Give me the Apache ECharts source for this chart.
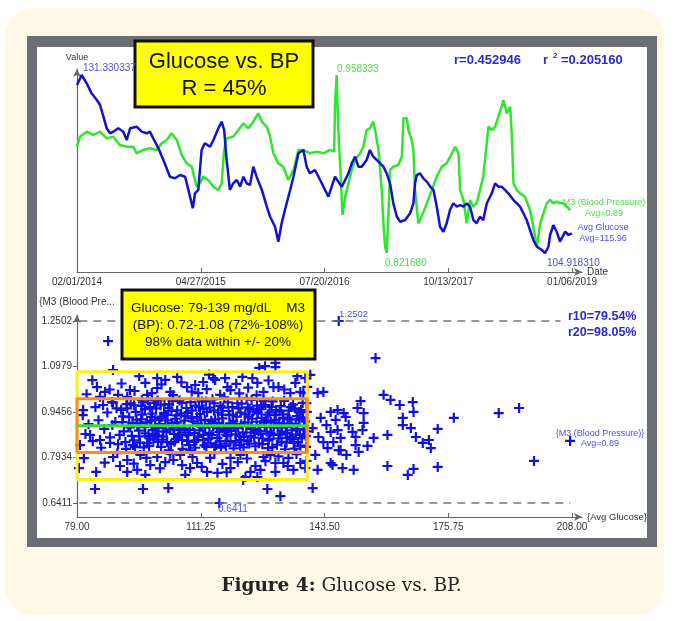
<!DOCTYPE html>
<html><head><meta charset="utf-8">
<script src="https://cdn.jsdelivr.net/npm/echarts@6/dist/echarts.min.js"></script>
<style>
html,body{margin:0;padding:0;background:#fff;width:673px;height:621px;overflow:hidden;}
#card{position:absolute;left:5px;top:8px;width:659px;height:607px;background:#FEF9E7;border-radius:28px;}
#frame{position:absolute;left:27px;top:36px;width:630px;height:511px;background:#6B6E75;}
#inner{position:absolute;left:37px;top:47px;width:610px;height:491px;background:#fff;}
#chart{position:absolute;left:0;top:0;width:673px;height:621px;}
#caption{position:absolute;left:0;width:683px;top:574px;line-height:22px;text-align:center;font-family:"DejaVu Serif",serif;font-size:18.5px;color:#222;}
</style></head>
<body>
<div id="card"></div><div id="frame"></div><div id="inner"></div>
<div id="chart"></div>
<div id="caption"><b>Figure 4:</b> Glucose vs. BP.</div>
<script>
// ---------- data ----------
const dateTicks = ['02/01/2014','04/27/2015','07/20/2016','10/13/2017','01/06/2019'];
const dayTicks = [0,450,900,1350,1800]; // days since 02/01/2014
const glucoseTicks = [79,111.25,143.5,175.75,208];
const bpTicks = [0.6411,0.7934,0.9456,1.0979,1.2502];

const blueDays = [0,17,35,53,72,84,96,108,120,132,150,168,181,193,217,235,253,265,277,296,314,338,356,375,393,405,421,429,441,453,465,484,496,514,526,535,544,556,568,581,593,605,617,629,641,653,672,690,702,720,732,744,756,775,787,805,823,835,847,865,884,902,914,926,938,950,963,975,987,999,1011,1023,1035,1053,1065,1077,1090,1102,1114,1126,1138,1150,1163,1175,1193,1211,1223,1229,1235,1247,1259,1272,1284,1296,1308,1320,1332,1344,1356,1368,1381,1393,1405,1417,1429,1441,1453,1465,1477,1490,1508,1520,1532,1544,1556,1568,1587,1599,1611,1623,1635,1647,1659,1672,1690,1702,1714,1720,1732,1744,1756,1762,1775,1787,1799];
const blueGlucose = [129.85,131.33,130.10,128.61,127.62,126.88,125.14,123.42,122.68,122.92,123.42,122.92,121.69,123.42,123.66,122.92,122.68,122.92,121.94,120.45,118.72,116.24,116.00,116.49,116.24,114.27,111.55,113.78,114.27,120.20,121.20,120.69,121.69,123.42,124.40,123.17,118.72,114.27,115.26,115.75,114.76,116.24,115.26,115.01,117.72,116.24,114.27,111.79,110.30,108.82,106.60,109.33,111.30,114.27,116.24,119.71,120.20,117.72,116.74,117.23,115.75,114.27,113.27,114.76,116.24,115.50,114.76,115.75,116.74,118.23,119.21,117.72,117.72,118.72,120.20,119.21,118.72,118.23,117.72,116.74,115.26,112.29,110.30,109.56,109.81,110.81,112.29,115.26,116.49,116.74,116.00,115.50,114.76,114.27,111.79,108.82,108.08,109.33,111.30,112.29,111.79,112.04,111.79,112.29,111.79,109.81,109.33,110.30,109.81,112.29,113.78,115.26,114.76,114.76,114.27,113.78,112.78,112.29,111.79,110.81,109.81,108.33,106.85,105.85,105.36,104.92,105.85,107.59,109.07,108.08,106.60,106.36,108.08,107.59,107.84];

const greenDays = [0,11,35,59,84,108,132,156,181,205,217,241,265,290,308,326,344,363,381,399,417,435,447,459,477,496,514,526,535,544,568,587,605,623,641,659,672,690,702,714,732,750,768,787,805,823,847,872,896,920,935,938,944,950,959,965,975,987,999,1011,1029,1041,1053,1065,1077,1084,1096,1108,1114,1120,1126,1132,1138,1150,1168,1181,1187,1199,1205,1217,1223,1229,1241,1253,1272,1290,1308,1326,1344,1363,1375,1387,1393,1405,1417,1429,1441,1453,1465,1477,1496,1508,1520,1532,1544,1550,1563,1575,1581,1587,1599,1611,1629,1647,1659,1672,1684,1696,1708,1720,1732,1744,1756,1768,1781,1793];
const greenBP = [0.9033,0.9110,0.9148,0.9123,0.9148,0.9097,0.9110,0.9046,0.9033,0.9033,0.8982,0.9008,0.9021,0.9008,0.9059,0.9084,0.9136,0.9084,0.8969,0.8905,0.8879,0.8726,0.8752,0.8803,0.8777,0.8726,0.8700,0.8752,0.9008,0.9097,0.9110,0.9161,0.9212,0.9174,0.9225,0.9289,0.9225,0.9186,0.9110,0.8982,0.8905,0.8879,0.8777,0.8854,0.9008,0.9008,0.8982,0.8995,0.8982,0.9008,0.8995,0.9340,0.9583,0.9161,0.8803,0.8509,0.8649,0.8752,0.8854,0.8931,0.8982,0.9033,0.9161,0.9174,0.9225,0.9161,0.9008,0.8700,0.8445,0.8265,0.8217,0.8496,0.8854,0.8879,0.8892,0.8956,0.9251,0.9251,0.9161,0.9084,0.9008,0.8700,0.8445,0.8496,0.8598,0.8700,0.8803,0.8879,0.8905,0.8982,0.9033,0.8982,0.8700,0.8624,0.8445,0.8624,0.8572,0.8598,0.8700,0.8803,0.9186,0.9161,0.9186,0.9263,0.9340,0.9391,0.9289,0.9340,0.9110,0.8752,0.8700,0.8675,0.8649,0.8547,0.8419,0.8265,0.8445,0.8522,0.8598,0.8624,0.8598,0.8611,0.8598,0.8598,0.8572,0.8547];

// scatter: [Avg Glucose, M3 (Blood Pressure)]
const scatterPoints = [
[80.5,0.935],[81.2,0.872],[82.0,0.905],[83.1,0.848],[83.8,0.962],[84.6,0.918],[85.3,0.826],[86.1,0.889],[86.9,0.944],[87.6,0.861],[88.4,0.977],[89.0,0.912],[89.7,0.838],[90.5,0.953],[91.2,0.881],[91.8,0.822],[92.6,0.928],[93.3,0.866],[93.9,0.968],[94.7,0.901],[95.4,0.843],[96.0,0.937],[96.8,0.874],[97.5,0.985],[98.1,0.917],[98.9,0.853],[99.6,0.958],[100.2,0.892],[100.9,0.829],[101.7,0.943],[102.3,0.878],[103.0,0.971],[103.8,0.909],[104.4,0.846],[105.1,0.951],[105.9,0.885],[106.5,0.822],[107.2,0.932],[108.0,0.868],[108.6,0.979],[109.3,0.914],[110.1,0.851],[110.8,0.962],[111.4,0.897],[112.2,0.834],[112.9,0.945],[113.5,0.876],[114.3,0.988],[115.0,0.921],[115.6,0.858],[116.4,0.966],[117.1,0.903],[117.7,0.840],[118.5,0.949],[119.2,0.882],[119.8,0.824],[120.6,0.930],[121.3,0.864],[121.9,0.974],[122.7,0.911],[123.4,0.848],[124.0,0.956],[124.8,0.889],[125.5,0.831],[126.1,0.941],[126.9,0.872],[127.6,0.983],[128.2,0.918],[129.0,0.855],[129.7,0.963],[130.3,0.899],[131.1,0.836],[131.8,0.947],[132.4,0.880],[133.2,0.821],[133.9,0.927],[134.5,0.862],[135.3,0.970],[136.0,0.906],[136.6,0.845],[137.4,0.952],[138.1,0.887],[138.7,0.829],
[92.1,0.958],[92.9,0.894],[93.6,0.835],[94.3,0.946],[95.1,0.883],[95.8,0.966],[96.4,0.827],[97.2,0.911],[97.9,0.857],[98.6,0.940],[99.3,0.872],[100.0,0.984],[100.7,0.926],[101.4,0.863],[102.0,0.903],[102.8,0.959],[103.5,0.838],[104.1,0.893],[104.9,0.934],[105.6,0.870],[106.3,0.976],[107.0,0.917],[107.7,0.849],[108.4,0.886],[109.0,0.950],[109.8,0.826],[110.5,0.907],[111.1,0.939],[111.9,0.869],[112.6,0.981],[113.2,0.857],[114.0,0.916],[114.7,0.951],[115.3,0.835],[116.1,0.879],[116.8,0.937],[117.4,0.995],[118.2,0.866],[118.9,0.908],[119.5,0.962],[120.3,0.844],[121.0,0.893],[121.6,0.944],[122.4,0.827],[123.1,0.877],[123.7,0.930],[124.5,0.986],[125.2,0.860],[125.8,0.913],[126.6,0.955],[127.3,0.838],[127.9,0.896],[128.7,0.937],[129.4,0.876],[130.0,0.981],[130.8,0.919],[131.5,0.857],[132.1,0.965],[132.9,0.906],[133.6,0.843],[134.2,0.950],[135.0,0.884],[135.7,0.823],[136.3,0.932],[137.1,0.870],[137.8,0.976],[138.4,0.914],
[95.5,0.908],[96.7,0.955],[97.8,0.832],[98.4,0.899],[99.9,0.867],[101.1,0.930],[101.8,0.971],[102.5,0.845],[103.2,0.887],[104.6,0.923],[105.3,0.862],[106.8,0.898],[107.5,0.959],[108.2,0.835],[109.6,0.875],[110.3,0.929],[111.6,0.981],[112.3,0.919],[113.8,0.841],[114.5,0.897],[115.8,0.944],[116.5,0.826],[117.9,0.870],[118.7,0.935],[119.9,0.898],[120.8,0.975],[121.7,0.852],[122.9,0.938],[123.6,0.901],[124.3,0.866],[125.9,0.967],[126.4,0.841],[127.1,0.926],[128.4,0.880],[129.2,0.944],[129.9,0.828],[131.3,0.893],[132.7,0.925],[133.4,0.875],[134.7,0.962],[135.5,0.842],[136.8,0.921],[137.6,0.858],[138.9,0.946],[139.0,0.881],
[88.2,0.902],[89.3,0.958],[90.1,0.869],[91.0,0.931],[91.6,0.845],[92.4,0.898],[93.0,0.975],[93.8,0.851],[94.5,0.920],[95.2,0.864],[95.9,0.985],[96.6,0.895],[97.3,0.842],[98.0,0.962],[98.7,0.885],[99.4,0.919],[100.1,0.846],[100.8,0.968],[101.5,0.881],[102.2,0.936],[102.9,0.817],[103.6,0.949],[104.3,0.872],[105.0,0.910],[105.7,0.984],[106.4,0.852],[107.1,0.889],[107.8,0.943],[108.5,0.817],[109.2,0.899],[109.9,0.967],[110.6,0.862],[111.3,0.918],[112.0,0.955],[112.7,0.829],[113.4,0.906],[114.1,0.868],[114.8,0.975],[115.5,0.891],[116.2,0.848],[116.9,0.924],[117.6,0.885],[118.3,0.978],[119.0,0.848],[119.7,0.915],[120.4,0.871],[121.1,0.958],[121.8,0.905],[122.5,0.862],[123.2,0.991],[123.9,0.840],[124.6,0.923],[125.3,0.879],[126.0,0.947],[126.7,0.901],[127.4,0.857],[128.1,0.969],[128.8,0.825],[129.5,0.912],[130.2,0.869],[130.9,0.952],[131.6,0.909],[132.3,0.846],[133.0,0.983],[133.7,0.895],[134.4,0.921],[135.1,0.855],[135.8,0.958],[136.5,0.889],[137.2,0.833],[137.9,0.927],[138.6,0.866],
[90.8,0.912],[91.9,0.972],[93.5,0.909],[94.1,0.828],[95.7,0.921],[96.2,0.978],[97.6,0.865],[98.3,0.929],[99.1,0.976],[100.4,0.905],[101.2,0.853],[102.6,0.918],[103.9,0.982],[104.8,0.856],[105.4,0.898],[106.1,0.940],[107.3,0.877],[108.8,0.925],[109.5,0.846],[110.9,0.884],[111.8,0.852],[112.4,0.893],[113.6,0.960],[114.9,0.829],[115.9,0.909],[117.0,0.960],[117.8,0.832],[118.6,0.892],[119.6,0.937],[120.5,0.905],[121.4,0.835],[122.2,0.877],[123.5,0.961],[124.4,0.897],[125.0,0.948],[126.3,0.882],[127.0,0.963],[127.8,0.910],[128.9,0.850],[129.6,0.895],[130.5,0.935],[131.9,0.871],[132.6,0.938],[133.8,0.859],[134.9,0.906],[136.1,0.870],[137.0,0.944],[138.2,0.899],[138.8,0.975],
[84.2,1.029],[86.3,1.013],[85.0,0.996],[89.7,1.003],[92.8,1.019],[92.1,0.996],[99.9,1.059],[102.0,1.053],[96.8,1.043],[105.1,1.063],[107.7,1.029],[111.9,1.046],[115.0,1.053],[117.6,1.059],[122.1,1.063],[124.7,1.059],[130.2,1.029],[131.5,1.029],[135.9,1.043],[138.5,1.059],[134.6,1.009],[138.0,1.009],[127.6,1.013],[119.0,1.019],[110.6,1.009],[103.3,1.013],[99.9,1.026],[97.3,1.003],[88.4,1.086],[109.8,1.036],[114.5,1.059],[118.2,1.029],[126.0,1.043],[130.7,1.096],[137.2,1.013],[139.8,1.070],
[81.5,1.005],[83.0,1.052],[87.5,1.021],[90.6,1.041],[94.0,1.016],[95.2,1.066],[98.5,1.009],[101.0,1.038],[104.0,1.002],[106.2,1.045],[108.9,1.014],[112.8,1.022],[113.4,1.071],[116.3,1.003],[120.5,1.040],[121.3,1.008],[123.6,1.027],[125.8,1.002],[128.9,1.051],[133.0,1.021],[136.4,1.066],[139.0,1.030],
[87.1,1.183],[126.5,1.093],[128.0,1.099],[130.7,1.110],[147.2,1.2502],[156.8,1.126],
[143.2,1.013],[141.7,1.009],[148.5,0.942],[158.9,1.003],[160.7,0.986],[163.1,0.969],[166.5,0.979],[166.7,0.946],[152.9,0.982],[152.1,0.959],[153.7,0.942],[146.9,0.952],[145.1,0.946],[188.9,0.942],[194.2,0.959],[177.2,0.926],[173.0,0.889],[163.9,0.926],[163.9,0.902],[166.0,0.892],[167.3,0.862],[169.1,0.842],[170.7,0.852],[171.2,0.825],[159.9,0.869],[156.3,0.859],[154.7,0.832],[151.6,0.862],[151.6,0.835],[147.7,0.818],[145.8,0.845],[146.9,0.885],[149.0,0.929],[153.7,0.909],[153.4,0.885],[145.1,0.775],[148.2,0.758],[151.1,0.752],[159.9,0.765],[165.2,0.735],[166.7,0.755],[173.0,0.762],[198.1,0.782],[207.5,0.849],[143.2,0.845],[145.1,0.879],[147.2,0.818],[141.7,0.752],[145.6,0.768],[140.4,0.691],[142.5,0.926],[144.0,0.902],[140.4,0.892],[141.9,0.862],[149.8,0.902],[150.8,0.879],[147.7,0.859],[144.3,0.825],[149.2,0.802],[152.4,0.812],[141.1,0.802],[146.4,0.919],
[79.5,0.758],[84.0,0.745],[92.1,0.745],[94.7,0.752],[98.1,0.768],[107.2,0.735],[112.9,0.745],[115.6,0.742],[119.0,0.758],[124.2,0.745],[130.7,0.775],[132.8,0.775],[135.4,0.752],[137.2,0.775],[88.4,0.795],[92.1,0.785],[99.9,0.795],[104.1,0.785],[110.3,0.775],[119.0,0.792],[127.6,0.795],[87.6,0.842],[82.4,0.869],[85.0,0.852],[95.5,0.802],[102.0,0.778],[105.9,0.802],[113.7,0.792],[121.6,0.802],[129.4,0.802],[134.1,0.792],[90.2,0.765],[108.5,0.758],[116.9,0.772],[125.5,0.765],[138.5,0.758],[96.8,0.735],[130.7,0.745],
[80.8,0.791],[86.2,0.776],[89.5,0.808],[93.8,0.773],[97.1,0.792],[100.6,0.757],[103.3,0.806],[106.4,0.768],[109.1,0.795],[111.5,0.762],[114.8,0.808],[118.0,0.744],[120.9,0.778],[123.3,0.790],[126.8,0.752],[128.1,0.781],[131.5,0.797],[133.9,0.765],[136.2,0.805],[138.8,0.782],
[122.3,0.718],[126.0,0.728],[122.9,0.728],[83.7,0.688],[96.2,0.688],[102.8,0.691],[116.1,0.6411],[128.6,0.688],[132.0,0.664],
[80.6,0.952],[85.8,0.969],[88.1,0.979],[79.8,0.835]
];

const glucoseRange = [79,139];
const bpRange20 = [0.72,1.08];
const bpRange10 = [0.81,0.99];
const bpCenter = 0.9;
const bpMax = 1.2502, bpMin = 0.6411;
const maxLineEnd = 205, minLineEnd = 207.5;

// ---------- chart ----------
const FONT = '"Liberation Sans", Arial, Helvetica, sans-serif';
const BLUE_TXT = '#4E4EE0', GREEN_TXT = '#4FD94F', R_TXT = '#2A2AD4';
const PLUS = 'path://M3.9,0H6.1V3.9H10V6.1H6.1V10H3.9V6.1H0V3.9H3.9Z';
const zip = (a, b) => a.map((v, i) => [v, b[i]]);
const rect = (g, b) => [[g[0],b[0]],[g[1],b[0]],[g[1],b[1]],[g[0],b[1]],[g[0],b[0]]];

function txt(text, x, y, font, fill, align) {
  return { type:'text', z:100, style:{ text, x, y, font, fill,
    textAlign: align || 'left', align: align || 'left',
    textVerticalAlign:'middle', verticalAlign:'middle' } };
}

const axisLineStyle = { color:'#666', width:1.2 };
const chart = echarts.init(document.getElementById('chart'));
chart.setOption({
  animation:false,
  grid:[
    { left:77, top:69, width:505, height:203 },
    { left:77, top:315, width:505, height:202 }
  ],
  xAxis:[
    { type:'value', gridIndex:0, min:0, max:1836,
      name:'Date', nameLocation:'end', nameGap:5,
      nameTextStyle:{ fontSize:10, color:'#333', fontFamily:FONT },
      axisLine:{ onZero:false, lineStyle:axisLineStyle, symbol:['none','arrow'], symbolSize:[6,8] },
      axisTick:{ inside:true, length:4, customValues:dayTicks, lineStyle:{ color:'#666' } },
      axisLabel:{ customValues:dayTicks, formatter:v => dateTicks[dayTicks.indexOf(v)], fontSize:10, color:'#333', fontFamily:FONT, margin:5 },
      splitLine:{ show:false } },
    { type:'value', gridIndex:1, min:79, max:210.6,
      name:'{Avg Glucose}', nameLocation:'end', nameGap:5,
      nameTextStyle:{ fontSize:9.5, color:'#333', fontFamily:FONT },
      axisLine:{ onZero:false, lineStyle:axisLineStyle, symbol:['none','arrow'], symbolSize:[6,8] },
      axisTick:{ inside:true, length:4, customValues:glucoseTicks, lineStyle:{ color:'#666' } },
      axisLabel:{ customValues:glucoseTicks, formatter:v => v.toFixed(2), fontSize:10, color:'#333', fontFamily:FONT, margin:5 },
      splitLine:{ show:false } }
  ],
  yAxis:[
    { type:'value', gridIndex:0, min:102.099, max:132.22,
      name:'Value', nameLocation:'end', nameGap:7,
      nameTextStyle:{ fontSize:9, color:'#333', fontFamily:FONT },
      axisLine:{ show:true, onZero:false, lineStyle:axisLineStyle, symbol:['none','arrow'], symbolSize:[6,8] },
      axisTick:{ show:false }, axisLabel:{ show:false }, splitLine:{ show:false } },
    { type:'value', gridIndex:0, min:0.80709, max:0.96294, show:false, splitLine:{ show:false } },
    { type:'value', gridIndex:1, min:0.59425, max:1.27028,
      name:'{M3 (Blood Pre...', nameLocation:'end', nameGap:8,
      nameTextStyle:{ fontSize:10, color:'#333', fontFamily:FONT },
      axisLine:{ show:true, onZero:false, lineStyle:axisLineStyle, symbol:['none','arrow'], symbolSize:[6,8] },
      axisTick:{ show:true, length:4, customValues:bpTicks, lineStyle:{ color:'#666' } },
      axisLabel:{ customValues:bpTicks, formatter:v => v.toFixed(4), fontSize:10, color:'#333', fontFamily:FONT, margin:5 },
      splitLine:{ show:false } }
  ],
  series:[
    { type:'line', name:'M3 (Blood Pressure)', xAxisIndex:0, yAxisIndex:1, data:zip(greenDays, greenBP),
      showSymbol:false, lineStyle:{ color:'#2EE62E', width:2.5 }, z:2 },
    { type:'line', name:'Avg Glucose', xAxisIndex:0, yAxisIndex:0, data:zip(blueDays, blueGlucose),
      showSymbol:false, lineStyle:{ color:'#1212CC', width:2.5 }, z:3 },
    { type:'scatter', xAxisIndex:1, yAxisIndex:2, data:scatterPoints,
      symbol:PLUS, symbolSize:10, itemStyle:{ color:'#1010E6', opacity:1 }, z:3,
      markLine:{ silent:true, symbol:['none','none'], label:{ show:false },
        lineStyle:{ type:[8,6], color:'#777', width:1.5 },
        data:[
          [ { coord:[79.6, bpMax] }, { coord:[maxLineEnd, bpMax] } ],
          [ { coord:[79.6, bpMin] }, { coord:[minLineEnd, bpMin] } ]
        ] } },
    { type:'line', xAxisIndex:1, yAxisIndex:2, data:rect(glucoseRange, bpRange20),
      showSymbol:false, lineStyle:{ color:'#FFEE10', width:3 }, z:5, silent:true },
    { type:'line', xAxisIndex:1, yAxisIndex:2, data:rect(glucoseRange, bpRange10),
      showSymbol:false, lineStyle:{ color:'#FF8A1E', width:3 }, z:6, silent:true },
    { type:'line', xAxisIndex:1, yAxisIndex:2, data:[[glucoseRange[0], bpCenter],[glucoseRange[1], bpCenter]],
      showSymbol:false, lineStyle:{ color:'#33E033', width:3 }, z:7, silent:true }
  ],
  graphic:[
    { type:'rect', z:100, shape:{ x:135, y:41, width:178, height:66 }, style:{ fill:'#FFFF00', stroke:'#111', lineWidth:3 } },
    txt('Glucose vs. BP', 224, 62, '22px ' + FONT, '#111', 'center'),
    txt('R = 45%', 224, 89, '22px ' + FONT, '#111', 'center'),
    txt('131.330337', 83, 68, '10px ' + FONT, BLUE_TXT),
    txt('0.958333', 337, 69, '10px ' + FONT, GREEN_TXT),
    txt('r=0.452946', 454, 60, 'bold 13px ' + FONT, R_TXT),
    txt('r', 543, 60, 'bold 13px ' + FONT, R_TXT),
    txt('2', 553, 56, 'bold 8px ' + FONT, R_TXT),
    txt('=0.205160', 561, 60, 'bold 13px ' + FONT, R_TXT),
    txt('M3 (Blood Pressure)', 604, 203, '9px ' + FONT, GREEN_TXT, 'center'),
    txt('Avg=0.89', 604, 214, '9px ' + FONT, GREEN_TXT, 'center'),
    txt('Avg Glucose', 603, 228, '9px ' + FONT, BLUE_TXT, 'center'),
    txt('Avg=115.96', 603, 239, '9px ' + FONT, BLUE_TXT, 'center'),
    txt('0.821680', 385, 263, '10px ' + FONT, GREEN_TXT),
    txt('104.918310', 547, 263, '10px ' + FONT, BLUE_TXT),
    { type:'rect', z:100, shape:{ x:122, y:290, width:193, height:69 }, style:{ fill:'#FFFF00', stroke:'#111', lineWidth:3 } },
    txt('Glucose: 79-139 mg/dL    M3', 218, 308, '13.5px ' + FONT, '#111', 'center'),
    txt('(BP): 0.72-1.08 (72%-108%)', 218, 325, '13.5px ' + FONT, '#111', 'center'),
    txt('98% data within +/- 20%', 218, 342, '13.5px ' + FONT, '#111', 'center'),
    txt('1.2502', 339, 314, '9.5px ' + FONT, BLUE_TXT),
    txt('0.6411', 218, 509, '10px ' + FONT, BLUE_TXT),
    txt('r10=79.54%', 568, 317, 'bold 12.5px ' + FONT, R_TXT),
    txt('r20=98.05%', 568, 333, 'bold 12.5px ' + FONT, R_TXT),
    txt('{M3 (Blood Pressure)}', 600, 434, '9px ' + FONT, BLUE_TXT, 'center'),
    txt('Avg=0.89', 600, 444, '9px ' + FONT, BLUE_TXT, 'center')
  ]
});
</script>
</body></html>
